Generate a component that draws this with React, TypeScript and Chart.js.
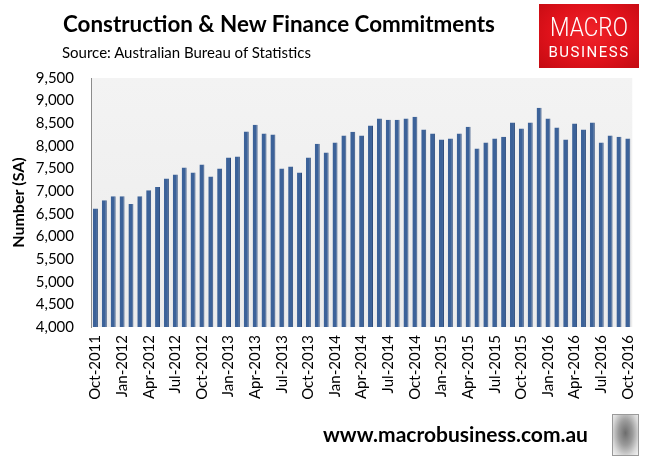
import React, { useEffect, useRef } from 'react';
import { Chart, registerables } from 'chart.js';

Chart.register(...registerables);

const months: string[] = [
  'Oct-2011', 'Nov-2011', 'Dec-2011', 'Jan-2012', 'Feb-2012', 'Mar-2012', 'Apr-2012', 'May-2012', 'Jun-2012',
  'Jul-2012', 'Aug-2012', 'Sep-2012', 'Oct-2012', 'Nov-2012', 'Dec-2012', 'Jan-2013', 'Feb-2013', 'Mar-2013',
  'Apr-2013', 'May-2013', 'Jun-2013', 'Jul-2013', 'Aug-2013', 'Sep-2013', 'Oct-2013', 'Nov-2013', 'Dec-2013',
  'Jan-2014', 'Feb-2014', 'Mar-2014', 'Apr-2014', 'May-2014', 'Jun-2014', 'Jul-2014', 'Aug-2014', 'Sep-2014',
  'Oct-2014', 'Nov-2014', 'Dec-2014', 'Jan-2015', 'Feb-2015', 'Mar-2015', 'Apr-2015', 'May-2015', 'Jun-2015',
  'Jul-2015', 'Aug-2015', 'Sep-2015', 'Oct-2015', 'Nov-2015', 'Dec-2015', 'Jan-2016', 'Feb-2016', 'Mar-2016',
  'Apr-2016', 'May-2016', 'Jun-2016', 'Jul-2016', 'Aug-2016', 'Sep-2016', 'Oct-2016',
];

const commitments: number[] = [
  6615, 6800, 6890, 6890, 6715, 6890, 7020, 7090, 7280,
  7370, 7525, 7415, 7590, 7325, 7500, 7745, 7765, 8320,
  8470, 8275, 8250, 7500, 7545, 7415, 7745, 8050, 7855,
  8075, 8230, 8315, 8230, 8450, 8605, 8580, 8580, 8605,
  8645, 8360, 8275, 8140, 8165, 8275, 8425, 7945, 8075,
  8165, 8205, 8515, 8385, 8515, 8845, 8605, 8405, 8140,
  8495, 8360, 8515, 8075, 8230, 8205, 8165,
];

const tickLabels: string[] = [
  'Oct-2011', 'Jan-2012', 'Apr-2012', 'Jul-2012', 'Oct-2012', 'Jan-2013', 'Apr-2013', 'Jul-2013',
  'Oct-2013', 'Jan-2014', 'Apr-2014', 'Jul-2014', 'Oct-2014', 'Jan-2015', 'Apr-2015', 'Jul-2015',
  'Oct-2015', 'Jan-2016', 'Apr-2016', 'Jul-2016', 'Oct-2016',
];

const Y_MIN = 4000;
const Y_MAX = 9500;
const Y_STEP = 500;

const FONT = 'Lato, "Open Sans", sans-serif';

export default function App() {
  const canvasRef = useRef<HTMLCanvasElement | null>(null);

  useEffect(() => {
    const canvas = canvasRef.current;
    if (!canvas) return;
    const bgPlugin = {
      id: 'plotBg',
      beforeDraw(chart: any) {
        const { ctx, chartArea } = chart;
        if (!chartArea) return;
        ctx.save();
        const g = ctx.createLinearGradient(0, chartArea.top, 0, chartArea.bottom);
        g.addColorStop(0, '#f3f3f3');
        g.addColorStop(1, '#ececec');
        ctx.fillStyle = g;
        ctx.fillRect(chartArea.left, chartArea.top, chartArea.right - chartArea.left, chartArea.bottom - chartArea.top);
        ctx.restore();
      },
    };
    const tickSet = new Set(tickLabels);
    const chart = new Chart(canvas, {
      type: 'bar',
      data: {
        labels: months,
        datasets: [
          {
            label: 'Number (SA)',
            data: commitments,
            backgroundColor: '#3c6299',
            borderColor: '#2d4c7c',
            borderWidth: { left: 0, right: 1, top: 0, bottom: 0 },
            categoryPercentage: 1,
            barPercentage: 0.56,
          },
        ],
      },
      options: {
        responsive: false,
        animation: false,
        layout: { padding: { top: 78, right: 21, left: 0, bottom: 0 } },
        plugins: {
          legend: { display: false },
          tooltip: { enabled: false },
          title: { display: false },
        },
        scales: {
          x: {
            grid: { display: false, drawTicks: false },
            border: { display: false },
            ticks: {
              autoSkip: false,
              maxRotation: 90,
              minRotation: 90,
              padding: 8,
              color: '#000',
              font: { family: FONT, size: 15 },
              callback: (_v: any, i: number) => (tickSet.has(months[i]) ? months[i] : ''),
            },
            afterFit: (scale: any) => {
              scale.height = 132;
            },
          },
          y: {
            min: Y_MIN,
            max: Y_MAX,
            grid: { display: false, drawTicks: false },
            border: { display: true, color: '#8c8c8c', width: 1 },
            title: {
              display: true,
              text: 'Number (SA)',
              color: '#000',
              font: { family: FONT, size: 16, weight: 'bold' },
              padding: { top: 9, bottom: 0 },
            },
            ticks: {
              stepSize: Y_STEP,
              padding: 17,
              color: '#000',
              font: { family: FONT, size: 15 },
              callback: (v: any) => Number(v).toLocaleString('en-US'),
            },
            afterFit: (scale: any) => {
              scale.width = 91;
            },
          },
        },
      },
      plugins: [bgPlugin],
    });
    return () => chart.destroy();
  }, []);

  return (
    <div style={{ position: 'absolute', left: 0, top: 0, width: 654, height: 459, background: '#fff', overflow: 'hidden' }}>
      <canvas ref={canvasRef} width={654} height={459} style={{ position: 'absolute', left: 0, top: 0 }} />
      <div
        style={{
          position: 'absolute', left: 63, top: 10, fontFamily: FONT, fontWeight: 700, fontSize: 22.4,
          color: '#000', whiteSpace: 'nowrap', lineHeight: '28px',
        }}
      >
        Construction &amp; New Finance Commitments
      </div>
      <div
        style={{
          position: 'absolute', left: 62, top: 43, fontFamily: FONT, fontSize: 15,
          color: '#000', whiteSpace: 'nowrap', lineHeight: '18px',
        }}
      >
        Source: Australian Bureau of Statistics
      </div>
      <div
        style={{
          position: 'absolute', left: 539, top: 4, width: 100, height: 64,
          background: 'radial-gradient(ellipse at 50% 45%, #f0232a 0%, #e0121b 55%, #c30b12 100%)',
          color: '#fff', textAlign: 'center', fontFamily: 'Roboto, "DejaVu Sans", sans-serif',
        }}
      >
        <div style={{ position: 'absolute', left: 0, right: 0, top: 11, fontSize: 25, lineHeight: '25px', fontWeight: 300, transform: 'scaleX(0.9)' }}>MACRO</div>
        <div style={{ position: 'absolute', left: 0, right: 0, top: 40, fontSize: 15, lineHeight: '16px', fontWeight: 400, letterSpacing: 1.5 }}>BUSINESS</div>
      </div>
      <div
        style={{
          position: 'absolute', left: 323, top: 421, fontFamily: FONT, fontWeight: 700, fontSize: 21,
          color: '#000', whiteSpace: 'nowrap', lineHeight: '26px',
        }}
      >
        www.macrobusiness.com.au
      </div>
      <div
        style={{
          position: 'absolute', left: 612, top: 414, width: 25, height: 40,
          border: '1px solid #9a9a9a',
          background: 'radial-gradient(ellipse at 50% 45%, #6d6d6d 0%, #9b9b9b 40%, #d8d8d8 75%, #f4f4f4 100%)',
        }}
      />
    </div>
  );
}
